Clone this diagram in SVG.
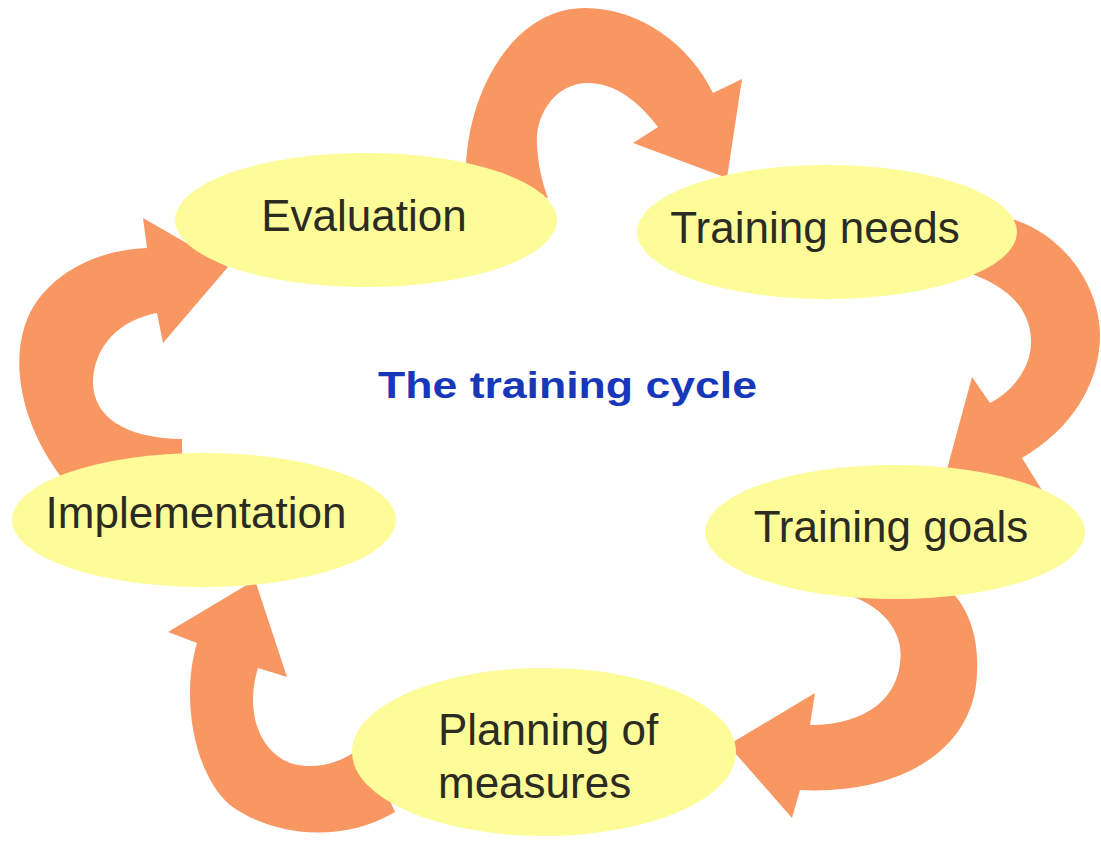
<svg xmlns="http://www.w3.org/2000/svg" width="1101" height="841" viewBox="0 0 1101 841">
  <style>
    .arrow { fill: #F99763; stroke: none; }
    .node { fill: #FDFC99; stroke: none; }
    .label { font-family: "Liberation Sans", Arial, sans-serif; font-size: 44px; fill: #2B2B22; }
    .title { font-family: "Liberation Sans", Arial, sans-serif; font-size: 37px; font-weight: bold; fill: #1838BA; }
  </style>
  <rect width="1101" height="841" fill="#FFFFFF"/>

  <!-- curved block arrows between the stages (drawn first, ellipses overlap their ends) -->
  <g id="connectors">
    <!-- Evaluation -> Training needs -->
    <path id="arrow-eval-needs" class="arrow" d="M 466,185 C 462,100 510,8 585,8 C 640,8 690,45 713,93 L 742,79 L 727,178 L 633,143 L 658,127 C 635,97 612,83 588,83 C 555,83 535,115 537,145 C 538,165 542,182 548,198 Z"/>
    <!-- Training needs -> Training goals -->
    <path id="arrow-needs-goals" class="arrow" d="M 995,215 C 1060,225 1100,285 1100,335 C 1100,385 1070,430 1022,458 L 1045,495 L 940,495 L 972,377 L 990,403 C 1015,390 1032,365 1031,340 C 1030,310 1010,285 960,270 Z"/>
    <!-- Training goals -> Planning of measures -->
    <path id="arrow-goals-planning" class="arrow" d="M 830,590 C 880,600 905,630 900,663 C 897,695 870,725 810,725 L 815,693 L 728,745 L 792,818 L 800,790 C 900,795 975,750 977,673 C 979,640 970,610 950,590 Z"/>
    <!-- Planning of measures -> Implementation -->
    <path id="arrow-planning-impl" class="arrow" d="M 395,812 C 340,845 270,835 230,805 C 195,775 180,700 197,643 L 168,632 L 255,580 L 287,677 L 258,668 C 245,710 258,750 290,763 C 320,772 345,760 365,745 Z"/>
    <!-- Implementation -> Evaluation -->
    <path id="arrow-impl-eval" class="arrow" d="M 62,478 C 25,430 10,370 25,325 C 40,280 90,250 147,248 L 143,218 L 228,267 L 163,343 L 157,313 C 120,320 95,345 93,380 C 92,415 122,438 182,439 L 182,470 L 75,495 Z"/>
  </g>

  <g id="node-evaluation">
    <ellipse class="node" cx="366" cy="220" rx="191" ry="67"/>
    <text class="label" x="364" y="231" text-anchor="middle">Evaluation</text>
  </g>

  <g id="node-training-needs">
    <ellipse class="node" cx="827" cy="232" rx="190" ry="67"/>
    <text class="label" x="815" y="243" text-anchor="middle">Training needs</text>
  </g>

  <g id="node-training-goals">
    <ellipse class="node" cx="895" cy="532" rx="190" ry="67"/>
    <text class="label" x="891" y="542" text-anchor="middle">Training goals</text>
  </g>

  <g id="node-planning">
    <ellipse class="node" cx="544" cy="752" rx="192" ry="84"/>
    <text class="label" x="438" y="745">Planning of</text>
    <text class="label" x="438" y="798">measures</text>
  </g>

  <g id="node-implementation">
    <ellipse class="node" cx="204" cy="520" rx="192" ry="67"/>
    <text class="label" x="196" y="528" text-anchor="middle">Implementation</text>
  </g>

  <g id="title">
    <text class="title" x="378" y="398" textLength="379" lengthAdjust="spacingAndGlyphs">The training cycle</text>
  </g>
</svg>
